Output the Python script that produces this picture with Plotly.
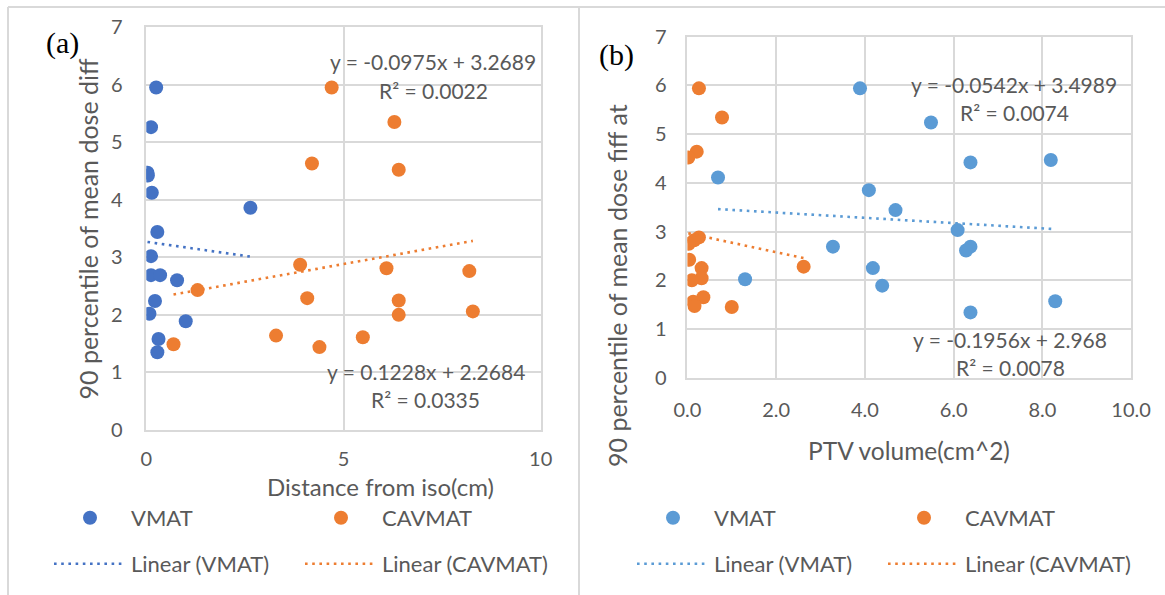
import plotly.graph_objects as go

# ---------------- data ----------------
a_vmat_x = [0.25, 0.12, 0.03, 0.04, 0.14, 2.64, 0.28, 0.12, 0.12, 0.35, 0.78, 0.22, 0.08, 1.00, 0.31, 0.28]
a_vmat_y = [5.95, 5.26, 4.47, 4.42, 4.12, 3.86, 3.44, 3.02, 2.69, 2.69, 2.60, 2.24, 2.02, 1.89, 1.58, 1.35]
a_cav_x = [4.70, 6.29, 4.20, 6.40, 3.90, 6.09, 8.19, 1.30, 4.08, 6.40, 6.40, 8.28, 3.29, 5.49, 4.39, 0.69]
a_cav_y = [5.95, 5.35, 4.63, 4.52, 2.87, 2.81, 2.76, 2.43, 2.29, 2.25, 2.00, 2.06, 1.64, 1.61, 1.44, 1.49]

b_vmat_x = [3.89, 5.49, 6.38, 8.19, 0.69, 4.09, 4.69, 6.09, 6.38, 6.28, 3.28, 4.18, 1.30, 4.39, 8.29, 6.38]
b_vmat_y = [5.94, 5.24, 4.42, 4.47, 4.11, 3.85, 3.44, 3.03, 2.69, 2.61, 2.69, 2.25, 2.02, 1.89, 1.57, 1.34]
b_cav_x = [0.26, 0.78, 0.21, 0.02, 0.26, 0.15, 0.03, 0.04, 2.62, 0.32, 0.32, 0.10, 0.36, 0.13, 0.16, 1.00]
b_cav_y = [5.94, 5.34, 4.64, 4.52, 2.88, 2.82, 2.75, 2.42, 2.28, 2.25, 2.04, 2.00, 1.65, 1.56, 1.47, 1.45]

# trendline coefficients (slope, intercept) as printed on the chart
a_slopes = [-0.0975, 0.1228]
a_intercepts = [3.2689, 2.2684]
a_r2 = ["0.0022", "0.0335"]
b_slopes = [-0.0542, -0.1956]
b_intercepts = [3.4989, 2.968]
b_r2 = ["0.0074", "0.0078"]

series_names = ["VMAT", "CAVMAT"]
a_xtitle = "Distance from iso(cm)"
b_xtitle = "PTV volume(cm^2)"
a_ytitle = "90 percentile of mean dose diff"
b_ytitle = "90 percentile of mean dose fiff at"

# ---------------- style ----------------
W, H = 1165, 595
FONT = "Lato"
GREY = "#595959"
GRID = "#d9d9d9"
ORANGE = "#ED7D31"
BLUE_A = "#4472C4"
BLUE_B = "#5B9BD5"


def px(x):
    return x / W


def py(y):
    return 1 - y / H


def fmt_eq(m, c):
    sign = "+" if c >= 0 else "-"
    return f"y = {m:g}x {sign} {abs(c):g}"


fig = go.Figure()


def add_panel(xs_list, ys_list, colors, slopes, intercepts, xa, ya, legs):
    # scatter markers
    for i in range(2):
        fig.add_trace(go.Scatter(
            x=xs_list[i], y=ys_list[i], mode="markers", name=series_names[i],
            marker=dict(color=colors[i], size=14, line=dict(width=0)),
            xaxis=xa, yaxis=ya, legend=legs[0]))
    # trendlines
    for i in range(2):
        x0, x1 = min(xs_list[i]), max(xs_list[i])
        fig.add_trace(go.Scatter(
            x=[x0, x1], y=[slopes[i] * x0 + intercepts[i], slopes[i] * x1 + intercepts[i]],
            mode="lines", name=f"Linear ({series_names[i]})",
            line=dict(color=colors[i], width=2.6, dash="2.6px,4.6px"),
            xaxis=xa, yaxis=ya, legend=legs[1]))


add_panel([a_vmat_x, a_cav_x], [a_vmat_y, a_cav_y], [BLUE_A, ORANGE],
          a_slopes, a_intercepts, "x", "y", ["legend", "legend2"])
add_panel([b_vmat_x, b_cav_x], [b_vmat_y, b_cav_y], [BLUE_B, ORANGE],
          b_slopes, b_intercepts, "x2", "y2", ["legend3", "legend4"])

axis_common = dict(showgrid=True, gridcolor=GRID, gridwidth=1.5, zeroline=False,
                   showline=True, linecolor=GRID, linewidth=1.5, mirror=True,
                   ticks="", tickfont=dict(family=FONT, size=20, color=GREY))

leg_common = dict(orientation="h", xanchor="left", yanchor="middle",
                  bgcolor="rgba(0,0,0,0)", font=dict(family=FONT, size=22, color=GREY),
                  entrywidth=164, entrywidthmode="pixels", itemwidth=72,
                  itemclick=False, itemdoubleclick=False)

fig.update_layout(
    width=W, height=H, margin=dict(l=0, r=0, t=0, b=0, autoexpand=False),
    paper_bgcolor="white", plot_bgcolor="white",
    font=dict(family=FONT, color=GREY),
    xaxis=dict(domain=[px(146.3), px(540.7)], range=[0, 10], dtick=5, anchor="y",
               ticklabelstandoff=10, **axis_common),
    yaxis=dict(domain=[py(430), py(27)], range=[0, 7], dtick=1, anchor="x",
               ticklabelstandoff=18, **axis_common),
    xaxis2=dict(domain=[px(687.4), px(1131.1)], range=[0, 10], dtick=2, tickformat=".1f",
                anchor="y2", ticklabelstandoff=14, **axis_common),
    yaxis2=dict(domain=[py(377.7), py(36.7)], range=[0, 7], dtick=1, anchor="x2",
                ticklabelstandoff=15, **axis_common),
    legend=dict(x=px(49), y=py(518), **leg_common),
    legend2=dict(x=px(49), y=py(564), **leg_common),
    legend3=dict(x=px(632), y=py(518), **leg_common),
    legend4=dict(x=px(632), y=py(564), **leg_common),
    showlegend=True,
)

# panel borders
for shp in [
    dict(x0=px(8), x1=1, y0=py(7), y1=py(7)),
    dict(x0=px(8), x1=px(8), y0=py(7), y1=0),
    dict(x0=px(579), x1=px(579), y0=py(7), y1=0),
]:
    fig.add_shape(type="line", xref="paper", yref="paper", line=dict(color=GRID, width=2), **shp)

annots = []
# panel labels
annots.append(dict(text="(a)", x=px(62), y=py(43), font=dict(family="Liberation Serif", size=30, color="black")))
annots.append(dict(text="(b)", x=px(616.7), y=py(55), font=dict(family="Liberation Serif", size=30, color="black")))
# axis titles
annots.append(dict(text=a_xtitle, x=px(380.7), y=py(486), font=dict(family=FONT, size=24, color=GREY)))
annots.append(dict(text=b_xtitle, x=px(908.7), y=py(450), font=dict(family=FONT, size=24.5, color=GREY)))
annots.append(dict(text=a_ytitle, x=px(88), y=py(228.5), textangle=-90, font=dict(family=FONT, size=25, color=GREY)))
annots.append(dict(text=b_ytitle, x=px(617), y=py(286), textangle=-90, font=dict(family=FONT, size=25, color=GREY)))
# equations
eq_pos = [
    (fmt_eq(a_slopes[0], a_intercepts[0]), 433.3, 61.7), ("R² = " + a_r2[0], 433.7, 90),
    (fmt_eq(a_slopes[1], a_intercepts[1]), 425.6, 371.7), ("R² = " + a_r2[1], 425.5, 399.3),
    (fmt_eq(b_slopes[0], b_intercepts[0]), 1014, 85), ("R² = " + b_r2[0], 1014.6, 112.7),
    (fmt_eq(b_slopes[1], b_intercepts[1]), 1010, 339.3), ("R² = " + b_r2[1], 1010.6, 367.3),
]
for t, x, y in eq_pos:
    annots.append(dict(text=t, x=px(x), y=py(y), font=dict(family=FONT, size=21, color=GREY)))

for a in annots:
    fig.add_annotation(xref="paper", yref="paper", showarrow=False, xanchor="center", yanchor="middle", **a)

fig.write_html("out.html", config={"displayModeBar": False},
               post_script="document.body.style.margin='0';")
